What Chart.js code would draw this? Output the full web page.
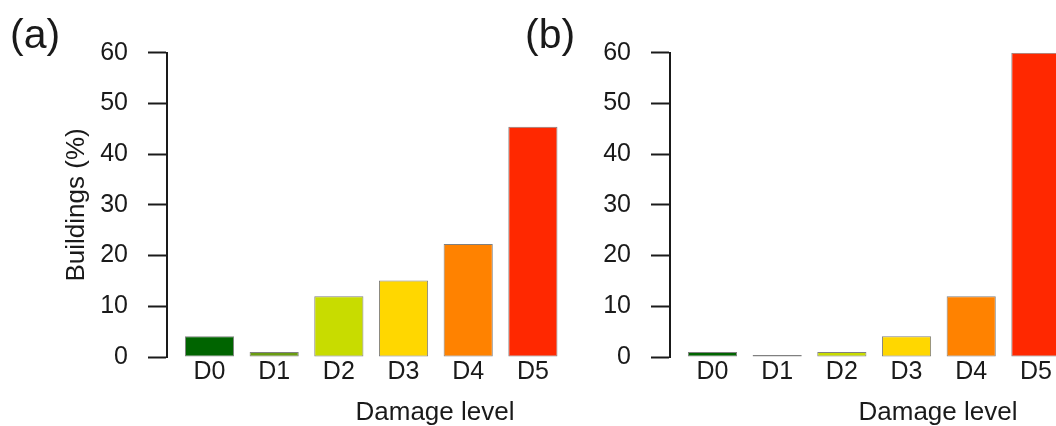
<!DOCTYPE html>
<html>
<head>
<meta charset="utf-8">
<script src="https://cdn.jsdelivr.net/npm/chart.js@4"></script>
<style>
  html, body { margin: 0; padding: 0; background: #fff; overflow: hidden; width: 1056px; height: 426px; }
  canvas { position: absolute; top: 0; }
  #chartA { left: 10px; }
  #chartB { left: 525px; }
</style>
</head>
<body>
<canvas id="chartA" width="693" height="426"></canvas>
<canvas id="chartB" width="681" height="426"></canvas>
<script>
// damage levels and colours
var levels = ['D0', 'D1', 'D2', 'D3', 'D4', 'D5'];
var levelColors = ['#006400', '#6a9c12', '#c8dc00', '#ffd700', '#ff8200', '#ff2800'];

// share of buildings per damage level (%)
var panelA = [4.1, 1.0, 12.0, 15.1, 22.3, 45.4];
var panelB = [1.0, 0, 1.0, 4.1, 12.0, 60.0];

var yTicks = { min: 0, max: 60, step: 5, labelEvery: 10 };

Chart.defaults.font.family = '"Liberation Sans", Arial, sans-serif';
Chart.defaults.color = '#1a1a1a';

function makeChart(id, panelName, values, yTitle, yWidth) {
    var points = values.map(function (v, i) { return { x: i, y: v }; });

    var config = {
        type: 'bar',
        data: {
            datasets: [{
                data: points,
                backgroundColor: levelColors,
                borderColor: '#808080',
                borderWidth: 1,
                borderSkipped: false,
                minBarLength: 2,
                categoryPercentage: 1,
                barPercentage: 0.76
            }]
        },
        options: {
            responsive: false,
            animation: false,
            layout: { padding: 0 },
            plugins: {
                legend: { display: false },
                tooltip: { enabled: false },
                title: {
                    display: true,
                    text: panelName,
                    align: 'start',
                    color: '#1a1a1a',
                    font: { size: 41, weight: 'normal', lineHeight: 0.8 },
                    padding: { top: 20, bottom: 0 }
                }
            },
            scales: {
                x: {
                    type: 'linear',
                    offset: false,
                    min: -0.657,
                    max: 7.63,
                    grid: { display: false, drawTicks: false },
                    border: { display: false },
                    ticks: {
                        stepSize: 1,
                        includeBounds: false,
                        autoSkip: false,
                        maxRotation: 0,
                        padding: 0,
                        font: { size: 25 },
                        color: '#1a1a1a',
                        callback: function (v) { return levels[v]; }
                    },
                    afterBuildTicks: function (s) {
                        s.ticks = s.ticks.filter(function (t) {
                            return t.value >= 0 && t.value < levels.length;
                        });
                    },
                    title: {
                        display: true,
                        text: 'Damage level',
                        color: '#1a1a1a',
                        font: { size: 26, lineHeight: 1 },
                        padding: { top: 13, bottom: 0 }
                    }
                },
                y: {
                    min: yTicks.min,
                    max: yTicks.max,
                    grid: {
                        drawOnChartArea: false,
                        drawTicks: true,
                        tickLength: 19,
                        tickWidth: 2,
                        tickColor: '#1a1a1a'
                    },
                    border: { display: true, color: '#1a1a1a', width: 2 },
                    ticks: {
                        stepSize: yTicks.step,
                        padding: 20,
                        font: { size: 25 },
                        color: '#1a1a1a',
                        callback: function (v) { return v % yTicks.labelEvery === 0 ? v : ''; }
                    },
                    title: {
                        display: yTitle !== '',
                        text: yTitle,
                        color: '#1a1a1a',
                        font: { size: 26 },
                        padding: { top: 51, bottom: 10 }
                    },
                    afterFit: function (s) { s.width = yWidth; }
                }
            }
        }
    };

    var ctx = document.getElementById(id).getContext('2d');
    return new Chart(ctx, config);
}

makeChart('chartA', '(a)', panelA, 'Buildings (%)', 157);
makeChart('chartB', '(b)', panelB, '', 145);
</script>
</body>
</html>
